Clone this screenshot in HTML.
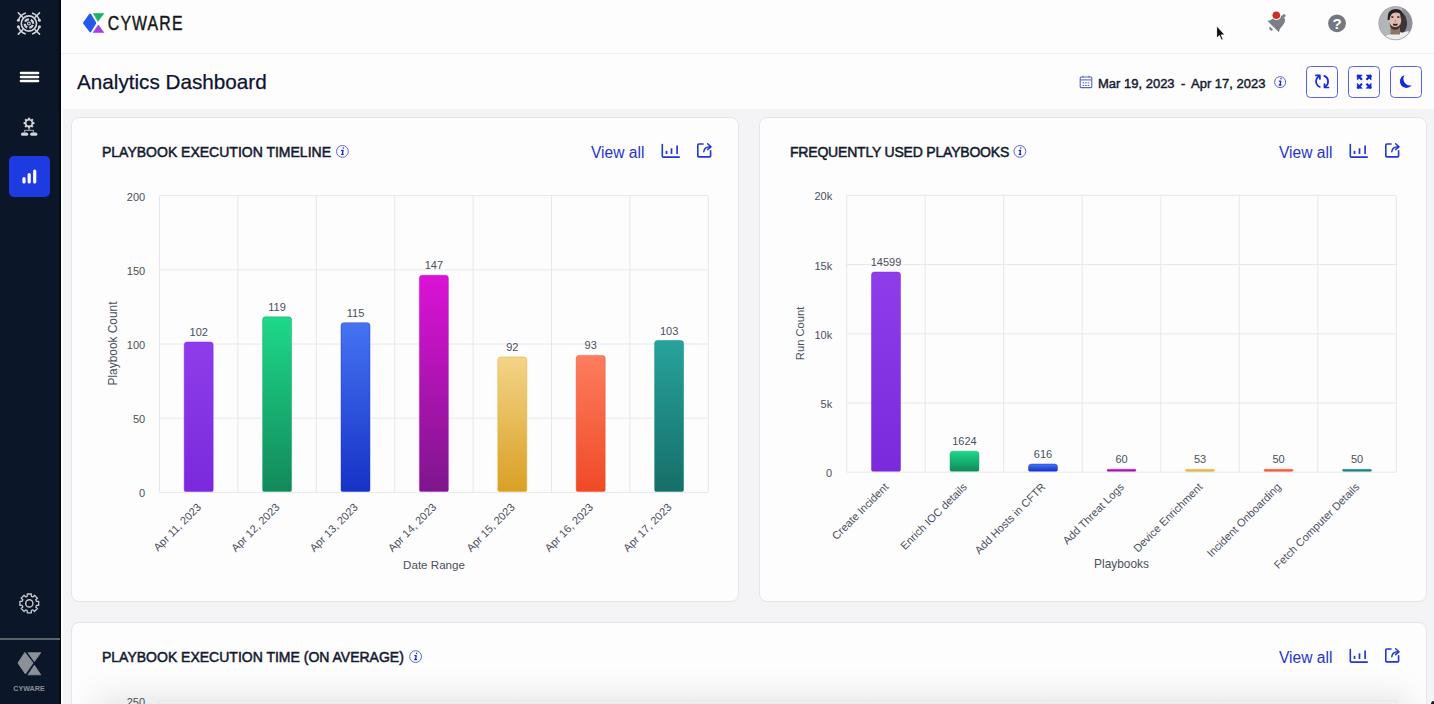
<!DOCTYPE html>
<html>
<head>
<meta charset="utf-8">
<style>
*{box-sizing:border-box;margin:0;padding:0}
html,body{width:1434px;height:704px;overflow:hidden;background:#f4f4f6;font-family:"Liberation Sans",Arial,sans-serif}
.abs{position:absolute}
#side{left:0;top:0;width:61px;height:704px;background:#0b1628;border-right:2px solid #040a14}
#strip{left:61px;top:0;width:2px;height:704px;background:#fbfcfe}
#hdr{left:61px;top:0;width:1373px;height:54px;background:#fdfdfd;border-bottom:1px solid #f0f0f3}
#tbar{left:61px;top:54px;width:1373px;height:55px;background:#fdfdfd}
.card{position:absolute;background:#fdfdfd;border:1px solid #e4e5e8;border-radius:8px}
.ttl{position:absolute;font-weight:400;font-size:14px;color:#141a2e;white-space:nowrap;letter-spacing:0;-webkit-text-stroke:0.5px #141a2e}
.va{position:absolute;font-size:15.6px;color:#2634cc;white-space:nowrap;margin-top:1.5px}
</style>
</head>
<body>
<div id="side" class="abs"></div>
<div id="strip" class="abs"></div>
<div id="hdr" class="abs"></div>
<div id="tbar" class="abs"></div>

<div class="card" style="left:71px;top:117px;width:668px;height:485px"></div>
<div class="card" style="left:759px;top:117px;width:668px;height:485px"></div>
<div class="card" style="left:71px;top:622px;width:1356px;height:120px;overflow:hidden">
  <div class="abs" style="left:36px;top:86px;width:1290px;height:60px;background:#e6e6e8;box-shadow:0 0 32px 12px rgba(0,0,0,0.1)"></div>
</div>

<!-- title -->
<div class="abs" style="left:77px;top:69.5px;font-size:20.7px;color:#0e1430;white-space:nowrap;-webkit-text-stroke:0.25px #0e1430">Analytics Dashboard</div>

<!-- date range -->
<div class="abs" style="left:1098px;top:76px;font-size:13px;font-weight:400;color:#161b30;white-space:nowrap;-webkit-text-stroke:0.45px #161b30">Mar 19, 2023</div>
<div class="abs" style="left:1181px;top:76px;font-size:13px;font-weight:400;color:#161b30;white-space:nowrap;-webkit-text-stroke:0.45px #161b30">-</div>
<div class="abs" style="left:1191px;top:76px;font-size:13px;font-weight:400;color:#161b30;white-space:nowrap;-webkit-text-stroke:0.45px #161b30">Apr 17, 2023</div>

<!-- card titles -->
<div class="ttl" style="left:102px;top:144px">PLAYBOOK EXECUTION TIMELINE</div>
<div class="ttl" style="left:790px;top:144px;letter-spacing:-0.2px">FREQUENTLY USED PLAYBOOKS</div>
<div class="ttl" style="left:102px;top:649px">PLAYBOOK EXECUTION TIME (ON AVERAGE)</div>

<div class="va" style="left:591px;top:142px">View all</div>
<div class="va" style="left:1279px;top:142px">View all</div>
<div class="va" style="left:1279px;top:647px">View all</div>

<div class="abs" style="left:1431px;top:701px;width:4px;height:4px;background:#151515;border-top-left-radius:3px"></div>
<svg class="abs" id="charts" style="left:0;top:0" width="1434" height="704"><defs><linearGradient id="gpur" x1="0" y1="0" x2="0" y2="1"><stop offset="0" stop-color="#8f3dea"/><stop offset="1" stop-color="#7a2adc"/></linearGradient><linearGradient id="ggrn" x1="0" y1="0" x2="0" y2="1"><stop offset="0" stop-color="#1dd98a"/><stop offset="1" stop-color="#12895a"/></linearGradient><linearGradient id="gblu" x1="0" y1="0" x2="0" y2="1"><stop offset="0" stop-color="#4474f2"/><stop offset="1" stop-color="#1632c6"/></linearGradient><linearGradient id="gmag" x1="0" y1="0" x2="0" y2="1"><stop offset="0" stop-color="#dc12d6"/><stop offset="1" stop-color="#7e168c"/></linearGradient><linearGradient id="gyel" x1="0" y1="0" x2="0" y2="1"><stop offset="0" stop-color="#f4d488"/><stop offset="1" stop-color="#d9a024"/></linearGradient><linearGradient id="gorg" x1="0" y1="0" x2="0" y2="1"><stop offset="0" stop-color="#fd7d5e"/><stop offset="1" stop-color="#ef4a26"/></linearGradient><linearGradient id="gtea" x1="0" y1="0" x2="0" y2="1"><stop offset="0" stop-color="#26a39c"/><stop offset="1" stop-color="#166e68"/></linearGradient></defs><line x1="159.5" y1="195.6" x2="708.3" y2="195.6" stroke="#e7e8ee" stroke-width="1"/><text x="145.2" y="200.6" text-anchor="end" font-size="11" fill="#4a4f5c" font-family="'Liberation Sans',Arial,sans-serif">200</text><line x1="159.5" y1="269.8" x2="708.3" y2="269.8" stroke="#e7e8ee" stroke-width="1"/><text x="145.2" y="274.8" text-anchor="end" font-size="11" fill="#4a4f5c" font-family="'Liberation Sans',Arial,sans-serif">150</text><line x1="159.5" y1="344" x2="708.3" y2="344" stroke="#e7e8ee" stroke-width="1"/><text x="145.2" y="349" text-anchor="end" font-size="11" fill="#4a4f5c" font-family="'Liberation Sans',Arial,sans-serif">100</text><line x1="159.5" y1="418.2" x2="708.3" y2="418.2" stroke="#e7e8ee" stroke-width="1"/><text x="145.2" y="423.2" text-anchor="end" font-size="11" fill="#4a4f5c" font-family="'Liberation Sans',Arial,sans-serif">50</text><line x1="159.5" y1="492.4" x2="708.3" y2="492.4" stroke="#e7e8ee" stroke-width="1"/><text x="145.2" y="497.4" text-anchor="end" font-size="11" fill="#4a4f5c" font-family="'Liberation Sans',Arial,sans-serif">0</text><line x1="159.5" y1="195.6" x2="159.5" y2="492.4" stroke="#e7e8ee" stroke-width="1"/><line x1="237.9" y1="195.6" x2="237.9" y2="492.4" stroke="#e7e8ee" stroke-width="1"/><line x1="316.3" y1="195.6" x2="316.3" y2="492.4" stroke="#e7e8ee" stroke-width="1"/><line x1="394.7" y1="195.6" x2="394.7" y2="492.4" stroke="#e7e8ee" stroke-width="1"/><line x1="473.1" y1="195.6" x2="473.1" y2="492.4" stroke="#e7e8ee" stroke-width="1"/><line x1="551.5" y1="195.6" x2="551.5" y2="492.4" stroke="#e7e8ee" stroke-width="1"/><line x1="629.9" y1="195.6" x2="629.9" y2="492.4" stroke="#e7e8ee" stroke-width="1"/><line x1="708.3" y1="195.6" x2="708.3" y2="492.4" stroke="#e7e8ee" stroke-width="1"/><path d="M184.2,490 L184.2,345 Q184.2,342 187.2,342 L210.2,342 Q213.2,342 213.2,345 L213.2,490 Q213.2,491.5 211.7,491.5 L185.7,491.5 Q184.2,491.5 184.2,490 Z" fill="url(#gpur)" stroke="#7a14e0" stroke-opacity="0.55" stroke-width="0.8"/><text x="198.7" y="336" text-anchor="middle" font-size="11" fill="#4a4f5c" font-family="'Liberation Sans',Arial,sans-serif">102</text><text x="201.9" y="507.9" text-anchor="end" font-size="11" fill="#4a4f5c" font-family="'Liberation Sans',Arial,sans-serif" transform="rotate(-45 201.9 507.9)">Apr 11, 2023</text><path d="M262.6,490 L262.6,319.8 Q262.6,316.8 265.6,316.8 L288.6,316.8 Q291.6,316.8 291.6,319.8 L291.6,490 Q291.6,491.5 290.1,491.5 L264.1,491.5 Q262.6,491.5 262.6,490 Z" fill="url(#ggrn)" stroke="#10a060" stroke-opacity="0.55" stroke-width="0.8"/><text x="277.1" y="310.8" text-anchor="middle" font-size="11" fill="#4a4f5c" font-family="'Liberation Sans',Arial,sans-serif">119</text><text x="280.3" y="507.9" text-anchor="end" font-size="11" fill="#4a4f5c" font-family="'Liberation Sans',Arial,sans-serif" transform="rotate(-45 280.3 507.9)">Apr 12, 2023</text><path d="M341,490 L341,325.7 Q341,322.7 344,322.7 L367,322.7 Q370,322.7 370,325.7 L370,490 Q370,491.5 368.5,491.5 L342.5,491.5 Q341,491.5 341,490 Z" fill="url(#gblu)" stroke="#1a2fd8" stroke-opacity="0.55" stroke-width="0.8"/><text x="355.5" y="316.7" text-anchor="middle" font-size="11" fill="#4a4f5c" font-family="'Liberation Sans',Arial,sans-serif">115</text><text x="358.7" y="507.9" text-anchor="end" font-size="11" fill="#4a4f5c" font-family="'Liberation Sans',Arial,sans-serif" transform="rotate(-45 358.7 507.9)">Apr 13, 2023</text><path d="M419.4,490 L419.4,278.3 Q419.4,275.3 422.4,275.3 L445.4,275.3 Q448.4,275.3 448.4,278.3 L448.4,490 Q448.4,491.5 446.9,491.5 L420.9,491.5 Q419.4,491.5 419.4,490 Z" fill="url(#gmag)" stroke="#b010c0" stroke-opacity="0.55" stroke-width="0.8"/><text x="433.9" y="269.3" text-anchor="middle" font-size="11" fill="#4a4f5c" font-family="'Liberation Sans',Arial,sans-serif">147</text><text x="437.1" y="507.9" text-anchor="end" font-size="11" fill="#4a4f5c" font-family="'Liberation Sans',Arial,sans-serif" transform="rotate(-45 437.1 507.9)">Apr 14, 2023</text><path d="M497.8,490 L497.8,359.9 Q497.8,356.9 500.8,356.9 L523.8,356.9 Q526.8,356.9 526.8,359.9 L526.8,490 Q526.8,491.5 525.3,491.5 L499.3,491.5 Q497.8,491.5 497.8,490 Z" fill="url(#gyel)" stroke="#e0a820" stroke-opacity="0.55" stroke-width="0.8"/><text x="512.3" y="350.9" text-anchor="middle" font-size="11" fill="#4a4f5c" font-family="'Liberation Sans',Arial,sans-serif">92</text><text x="515.5" y="507.9" text-anchor="end" font-size="11" fill="#4a4f5c" font-family="'Liberation Sans',Arial,sans-serif" transform="rotate(-45 515.5 507.9)">Apr 15, 2023</text><path d="M576.2,490 L576.2,358.4 Q576.2,355.4 579.2,355.4 L602.2,355.4 Q605.2,355.4 605.2,358.4 L605.2,490 Q605.2,491.5 603.7,491.5 L577.7,491.5 Q576.2,491.5 576.2,490 Z" fill="url(#gorg)" stroke="#f04020" stroke-opacity="0.55" stroke-width="0.8"/><text x="590.7" y="349.4" text-anchor="middle" font-size="11" fill="#4a4f5c" font-family="'Liberation Sans',Arial,sans-serif">93</text><text x="593.9" y="507.9" text-anchor="end" font-size="11" fill="#4a4f5c" font-family="'Liberation Sans',Arial,sans-serif" transform="rotate(-45 593.9 507.9)">Apr 16, 2023</text><path d="M654.6,490 L654.6,343.5 Q654.6,340.5 657.6,340.5 L680.6,340.5 Q683.6,340.5 683.6,343.5 L683.6,490 Q683.6,491.5 682.1,491.5 L656.1,491.5 Q654.6,491.5 654.6,490 Z" fill="url(#gtea)" stroke="#128078" stroke-opacity="0.55" stroke-width="0.8"/><text x="669.1" y="334.5" text-anchor="middle" font-size="11" fill="#4a4f5c" font-family="'Liberation Sans',Arial,sans-serif">103</text><text x="672.3" y="507.9" text-anchor="end" font-size="11" fill="#4a4f5c" font-family="'Liberation Sans',Arial,sans-serif" transform="rotate(-45 672.3 507.9)">Apr 17, 2023</text><text x="434" y="569" text-anchor="middle" font-size="11.6" fill="#4a4f5c" font-family="'Liberation Sans',Arial,sans-serif">Date Range</text><text x="0" y="0" text-anchor="middle" font-size="11.9" fill="#4a4f5c" font-family="'Liberation Sans',Arial,sans-serif" transform="translate(116.5 343.5) rotate(-90)">Playbook Count</text><line x1="846.7" y1="195.3" x2="1396.3" y2="195.3" stroke="#e7e8ee" stroke-width="1"/><text x="832.2" y="200.3" text-anchor="end" font-size="11" fill="#4a4f5c" font-family="'Liberation Sans',Arial,sans-serif">20k</text><line x1="846.7" y1="264.5" x2="1396.3" y2="264.5" stroke="#e7e8ee" stroke-width="1"/><text x="832.2" y="269.5" text-anchor="end" font-size="11" fill="#4a4f5c" font-family="'Liberation Sans',Arial,sans-serif">15k</text><line x1="846.7" y1="333.8" x2="1396.3" y2="333.8" stroke="#e7e8ee" stroke-width="1"/><text x="832.2" y="338.8" text-anchor="end" font-size="11" fill="#4a4f5c" font-family="'Liberation Sans',Arial,sans-serif">10k</text><line x1="846.7" y1="403" x2="1396.3" y2="403" stroke="#e7e8ee" stroke-width="1"/><text x="832.2" y="408" text-anchor="end" font-size="11" fill="#4a4f5c" font-family="'Liberation Sans',Arial,sans-serif">5k</text><line x1="846.7" y1="472.2" x2="1396.3" y2="472.2" stroke="#e7e8ee" stroke-width="1"/><text x="832.2" y="477.2" text-anchor="end" font-size="11" fill="#4a4f5c" font-family="'Liberation Sans',Arial,sans-serif">0</text><line x1="846.7" y1="195.3" x2="846.7" y2="472.2" stroke="#e7e8ee" stroke-width="1"/><line x1="925.2" y1="195.3" x2="925.2" y2="472.2" stroke="#e7e8ee" stroke-width="1"/><line x1="1003.7" y1="195.3" x2="1003.7" y2="472.2" stroke="#e7e8ee" stroke-width="1"/><line x1="1082.2" y1="195.3" x2="1082.2" y2="472.2" stroke="#e7e8ee" stroke-width="1"/><line x1="1160.8" y1="195.3" x2="1160.8" y2="472.2" stroke="#e7e8ee" stroke-width="1"/><line x1="1239.3" y1="195.3" x2="1239.3" y2="472.2" stroke="#e7e8ee" stroke-width="1"/><line x1="1317.8" y1="195.3" x2="1317.8" y2="472.2" stroke="#e7e8ee" stroke-width="1"/><line x1="1396.3" y1="195.3" x2="1396.3" y2="472.2" stroke="#e7e8ee" stroke-width="1"/><path d="M871.5,469.8 L871.5,275 Q871.5,272 874.5,272 L897.5,272 Q900.5,272 900.5,275 L900.5,469.8 Q900.5,471.3 899,471.3 L873,471.3 Q871.5,471.3 871.5,469.8 Z" fill="url(#gpur)" stroke="#7a14e0" stroke-opacity="0.55" stroke-width="0.8"/><text x="886" y="266" text-anchor="middle" font-size="11" fill="#4a4f5c" font-family="'Liberation Sans',Arial,sans-serif">14599</text><text x="889.2" y="487.7" text-anchor="end" font-size="11" fill="#4a4f5c" font-family="'Liberation Sans',Arial,sans-serif" transform="rotate(-45 889.2 487.7)">Create Incident</text><path d="M950,469.8 L950,454.2 Q950,451.2 953,451.2 L976,451.2 Q979,451.2 979,454.2 L979,469.8 Q979,471.3 977.5,471.3 L951.5,471.3 Q950,471.3 950,469.8 Z" fill="url(#ggrn)" stroke="#10a060" stroke-opacity="0.55" stroke-width="0.8"/><text x="964.5" y="445.2" text-anchor="middle" font-size="11" fill="#4a4f5c" font-family="'Liberation Sans',Arial,sans-serif">1624</text><text x="967.7" y="487.7" text-anchor="end" font-size="11" fill="#4a4f5c" font-family="'Liberation Sans',Arial,sans-serif" transform="rotate(-45 967.7 487.7)">Enrich IOC details</text><path d="M1028.5,469.8 L1028.5,467 Q1028.5,464 1031.5,464 L1054.5,464 Q1057.5,464 1057.5,467 L1057.5,469.8 Q1057.5,471.3 1056,471.3 L1030,471.3 Q1028.5,471.3 1028.5,469.8 Z" fill="url(#gblu)" stroke="#1a2fd8" stroke-opacity="0.55" stroke-width="0.8"/><text x="1043" y="458" text-anchor="middle" font-size="11" fill="#4a4f5c" font-family="'Liberation Sans',Arial,sans-serif">616</text><text x="1046.2" y="487.7" text-anchor="end" font-size="11" fill="#4a4f5c" font-family="'Liberation Sans',Arial,sans-serif" transform="rotate(-45 1046.2 487.7)">Add Hosts in CFTR</text><path d="M1107,470.3 L1107,470.3 Q1107,469.3 1108,469.3 L1135,469.3 Q1136,469.3 1136,470.3 L1136,470.3 Q1136,471.3 1135,471.3 L1108,471.3 Q1107,471.3 1107,470.3 Z" fill="url(#gmag)" stroke="#b010c0" stroke-opacity="0.55" stroke-width="0.8"/><text x="1121.5" y="463.3" text-anchor="middle" font-size="11" fill="#4a4f5c" font-family="'Liberation Sans',Arial,sans-serif">60</text><text x="1124.7" y="487.7" text-anchor="end" font-size="11" fill="#4a4f5c" font-family="'Liberation Sans',Arial,sans-serif" transform="rotate(-45 1124.7 487.7)">Add Threat Logs</text><path d="M1185.5,470.3 L1185.5,470.3 Q1185.5,469.3 1186.5,469.3 L1213.5,469.3 Q1214.5,469.3 1214.5,470.3 L1214.5,470.3 Q1214.5,471.3 1213.5,471.3 L1186.5,471.3 Q1185.5,471.3 1185.5,470.3 Z" fill="url(#gyel)" stroke="#e0a820" stroke-opacity="0.55" stroke-width="0.8"/><text x="1200" y="463.3" text-anchor="middle" font-size="11" fill="#4a4f5c" font-family="'Liberation Sans',Arial,sans-serif">53</text><text x="1203.2" y="487.7" text-anchor="end" font-size="11" fill="#4a4f5c" font-family="'Liberation Sans',Arial,sans-serif" transform="rotate(-45 1203.2 487.7)">Device Enrichment</text><path d="M1264,470.3 L1264,470.3 Q1264,469.3 1265,469.3 L1292,469.3 Q1293,469.3 1293,470.3 L1293,470.3 Q1293,471.3 1292,471.3 L1265,471.3 Q1264,471.3 1264,470.3 Z" fill="url(#gorg)" stroke="#f04020" stroke-opacity="0.55" stroke-width="0.8"/><text x="1278.5" y="463.3" text-anchor="middle" font-size="11" fill="#4a4f5c" font-family="'Liberation Sans',Arial,sans-serif">50</text><text x="1281.7" y="487.7" text-anchor="end" font-size="11" fill="#4a4f5c" font-family="'Liberation Sans',Arial,sans-serif" transform="rotate(-45 1281.7 487.7)">Incident Onboarding</text><path d="M1342.5,470.3 L1342.5,470.3 Q1342.5,469.3 1343.5,469.3 L1370.5,469.3 Q1371.5,469.3 1371.5,470.3 L1371.5,470.3 Q1371.5,471.3 1370.5,471.3 L1343.5,471.3 Q1342.5,471.3 1342.5,470.3 Z" fill="url(#gtea)" stroke="#128078" stroke-opacity="0.55" stroke-width="0.8"/><text x="1357" y="463.3" text-anchor="middle" font-size="11" fill="#4a4f5c" font-family="'Liberation Sans',Arial,sans-serif">50</text><text x="1360.2" y="487.7" text-anchor="end" font-size="11" fill="#4a4f5c" font-family="'Liberation Sans',Arial,sans-serif" transform="rotate(-45 1360.2 487.7)">Fetch Computer Details</text><text x="1121.5" y="568.3" text-anchor="middle" font-size="11.9" fill="#4a4f5c" font-family="'Liberation Sans',Arial,sans-serif">Playbooks</text><text x="0" y="0" text-anchor="middle" font-size="11.2" fill="#4a4f5c" font-family="'Liberation Sans',Arial,sans-serif" transform="translate(804.3 333.4) rotate(-90)">Run Count</text><line x1="159.3" y1="700.5" x2="1396" y2="700.5" stroke="#e7e8ee" stroke-width="1"/><line x1="159.3" y1="700.5" x2="159.3" y2="710" stroke="#e7e8ee" stroke-width="1"/><line x1="336" y1="700.5" x2="336" y2="710" stroke="#e7e8ee" stroke-width="1"/><line x1="512.6" y1="700.5" x2="512.6" y2="710" stroke="#e7e8ee" stroke-width="1"/><line x1="689.3" y1="700.5" x2="689.3" y2="710" stroke="#e7e8ee" stroke-width="1"/><line x1="866" y1="700.5" x2="866" y2="710" stroke="#e7e8ee" stroke-width="1"/><line x1="1042.7" y1="700.5" x2="1042.7" y2="710" stroke="#e7e8ee" stroke-width="1"/><line x1="1219.3" y1="700.5" x2="1219.3" y2="710" stroke="#e7e8ee" stroke-width="1"/><line x1="1396" y1="700.5" x2="1396" y2="710" stroke="#e7e8ee" stroke-width="1"/><text x="145" y="705.5" text-anchor="end" font-size="11" fill="#4a4f5c" font-family="'Liberation Sans',Arial,sans-serif">250</text><circle cx="28.9" cy="23.5" r="7.6" fill="none" stroke="#d2d4d8" stroke-width="1.7"/><circle cx="28.9" cy="23.5" r="4.2" fill="none" stroke="#d2d4d8" stroke-width="2.2" stroke-dasharray="4.6 2" transform="rotate(20 28.9 23.5)"/><circle cx="28.9" cy="23.5" r="1.4" fill="none" stroke="#d2d4d8" stroke-width="1.1"/><path d="M18.56,19.74 A11,11 0 0 1 25.14,13.16" fill="none" stroke="#d2d4d8" stroke-width="1.6" stroke-linecap="round"/><path d="M32.66,13.16 A11,11 0 0 1 39.24,19.74" fill="none" stroke="#d2d4d8" stroke-width="1.6" stroke-linecap="round"/><path d="M39.24,27.26 A11,11 0 0 1 32.66,33.84" fill="none" stroke="#d2d4d8" stroke-width="1.6" stroke-linecap="round"/><path d="M25.14,33.84 A11,11 0 0 1 18.56,27.26" fill="none" stroke="#d2d4d8" stroke-width="1.6" stroke-linecap="round"/><line x1="22.68" y1="17.28" x2="18.29" y2="12.89" stroke="#d2d4d8" stroke-width="1.5" stroke-linecap="round"/><line x1="35.12" y1="17.28" x2="39.51" y2="12.89" stroke="#d2d4d8" stroke-width="1.5" stroke-linecap="round"/><line x1="35.12" y1="29.72" x2="39.51" y2="34.11" stroke="#d2d4d8" stroke-width="1.5" stroke-linecap="round"/><line x1="22.68" y1="29.72" x2="18.29" y2="34.11" stroke="#d2d4d8" stroke-width="1.5" stroke-linecap="round"/><circle cx="18.38" cy="20.28" r="1.5" fill="#d2d4d8"/><circle cx="39.42" cy="20.28" r="1.5" fill="#d2d4d8"/><circle cx="39.42" cy="26.72" r="1.5" fill="#d2d4d8"/><circle cx="18.38" cy="26.72" r="1.5" fill="#d2d4d8"/><line x1="21" y1="73" x2="38" y2="73" stroke="#ffffff" stroke-width="2.6" stroke-linecap="round"/><line x1="21" y1="77" x2="38" y2="77" stroke="#ffffff" stroke-width="2.6" stroke-linecap="round"/><line x1="21" y1="81" x2="38" y2="81" stroke="#ffffff" stroke-width="2.6" stroke-linecap="round"/><path d="M33.06,122.04 L34.39,122.03 L34.39,124.17 L33.06,124.16 L32.62,125.22 L33.57,126.16 L32.06,127.67 L31.12,126.72 L30.06,127.16 L30.07,128.49 L27.93,128.49 L27.94,127.16 L26.88,126.72 L25.94,127.67 L24.43,126.16 L25.38,125.22 L24.94,124.16 L23.61,124.17 L23.61,122.03 L24.94,122.04 L25.38,120.98 L24.43,120.04 L25.94,118.53 L26.88,119.48 L27.94,119.04 L27.93,117.71 L30.07,117.71 L30.06,119.04 L31.12,119.48 L32.06,118.53 L33.57,120.04 L32.62,120.98 Z" fill="#d2d4d8"/><circle cx="29" cy="123.1" r="2.5" fill="#0b1628"/><path d="M29,128.5 L29,130.3 M24.6,130.3 L33.4,130.3 M24.6,130.3 L24.6,132.5 M33.4,130.3 L33.4,132.5" stroke="#d2d4d8" stroke-width="0.8" fill="none"/><rect x="21" y="132.6" width="7.2" height="3.2" rx="1.6" fill="#d2d4d8"/><rect x="30.2" y="132.6" width="7.2" height="3.2" rx="1.6" fill="#d2d4d8"/><rect x="9" y="156" width="41" height="41" rx="5" fill="#1e3be2"/><line x1="24" y1="178.70000000000002" x2="24" y2="182" stroke="#fff" stroke-width="3.2" stroke-linecap="round"/><line x1="29.2" y1="174.5" x2="29.2" y2="182" stroke="#fff" stroke-width="3.2" stroke-linecap="round"/><line x1="34.7" y1="171.1" x2="34.7" y2="182" stroke="#fff" stroke-width="3.2" stroke-linecap="round"/><path d="M36.41,601.35 L38.68,601.34 L38.68,605.46 L36.41,605.45 L35.78,606.98 L37.39,608.58 L34.48,611.49 L32.88,609.88 L31.35,610.51 L31.36,612.78 L27.24,612.78 L27.25,610.51 L25.72,609.88 L24.12,611.49 L21.21,608.58 L22.82,606.98 L22.19,605.45 L19.92,605.46 L19.92,601.34 L22.19,601.35 L22.82,599.82 L21.21,598.22 L24.12,595.31 L25.72,596.92 L27.25,596.29 L27.24,594.02 L31.36,594.02 L31.35,596.29 L32.88,596.92 L34.48,595.31 L37.39,598.22 L35.78,599.82 Z" fill="none" stroke="#c6c9ce" stroke-width="1.3" stroke-linejoin="round"/><circle cx="29.3" cy="603.4" r="3.6" fill="none" stroke="#c6c9ce" stroke-width="1.4"/><rect x="0" y="638" width="60" height="2" fill="#5d636d"/><path d="M24.9,652.5 L33,663 L25.4,673.8 L18,663 Z" fill="#8b9099" stroke="#8b9099" stroke-width="1" stroke-linejoin="round"/><path d="M28,652.7 L40.8,652.7 L34.4,661.6 Z" fill="#8b9099" stroke="#8b9099" stroke-width="0.8" stroke-linejoin="round"/><path d="M28,674.8 L40.8,674.8 L34.4,665.2 Z" fill="#8b9099" stroke="#8b9099" stroke-width="0.8" stroke-linejoin="round"/><text x="29" y="690.8" text-anchor="middle" font-size="8" font-weight="700" fill="#8b9099" font-family="'Liberation Sans',Arial,sans-serif" textLength="31.5" lengthAdjust="spacingAndGlyphs">CYWARE</text><path d="M89.6,13.6 Q90.3,13.2 91,14 L96,22.3 Q96.4,23 96,23.7 L91,31.9 Q90.3,32.8 89.6,32 L83.3,23.8 Q82.8,23 83.3,22.2 Z" fill="#2659ea"/><path d="M93.4,13.5 L103.9,13.5 L97.9,21.3 Z" fill="#17b26c" stroke="#17b26c" stroke-width="0.6" stroke-linejoin="round"/><path d="M93,32.6 L103.9,32.6 L98.3,25 Z" fill="#a43fe6" stroke="#a43fe6" stroke-width="0.6" stroke-linejoin="round"/><text transform="translate(107.8 30.2) scale(0.8 1)" font-size="19.8" letter-spacing="1.45" fill="#161616" stroke="#161616" stroke-width="0.45" font-family="'Liberation Sans',Arial,sans-serif">CYWARE</text><path d="M1216.6,25.8 L1216.6,38.2 L1219.4,35.6 L1221.4,40.2 L1223.2,39.4 L1221.3,34.9 L1225,34.9 Z" fill="#111" stroke="#fff" stroke-width="0.9" stroke-linejoin="round"/><g transform="translate(1273.2 26.6) rotate(45) scale(1.1)"><path d="M-7.4,0 Q-5.4,-1.6 -5.4,-6.2 Q-5.4,-12.6 0,-13 Q5.4,-12.6 5.4,-6.2 Q5.4,-1.6 7.4,0 Z" fill="#7a7e87"/><rect x="-1.3" y="-15.2" width="2.6" height="2.6" rx="0.6" fill="#7a7e87"/><path d="M-2,2.2 A2,2 0 0 0 2,2.2 Z" fill="#7a7e87"/></g><circle cx="1276.3" cy="15.2" r="4.9" fill="#fdfdfd"/><circle cx="1276.3" cy="15.2" r="3.8" fill="#c8321e"/><circle cx="1337" cy="23.3" r="8.9" fill="#747981"/><text x="1337" y="28.9" text-anchor="middle" font-size="15" font-weight="700" fill="#fff" font-family="'Liberation Sans',Arial,sans-serif">?</text><defs><clipPath id="avc"><circle cx="1395.5" cy="23.2" r="16.7"/></clipPath></defs><g clip-path="url(#avc)"><rect x="1378" y="6" width="35" height="35" fill="#b3b5b9"/><path d="M1402,6 L1413,6 L1413,41 L1404,41 Z" fill="#8c8f95"/><path d="M1400.5,12 Q1406,14 1407,22 Q1407.5,29 1403,33 L1399,31 Z" fill="#3a3436"/><path d="M1386,41 L1386,35.5 Q1392,33.5 1396,33.6 Q1402,33 1408.5,31 L1410,41 Z" fill="#eeeeee"/><rect x="1390.5" y="27" width="9.5" height="7.5" fill="#8f7468"/><ellipse cx="1395.2" cy="20.6" rx="6" ry="8.3" fill="#e2bcae"/><path d="M1387.6,20 Q1387,8.8 1395.6,8.9 Q1403.6,9 1403,17 Q1401,12.2 1395.6,12.4 Q1390.2,12.4 1389.6,20 Z" fill="#262022"/><path d="M1389.5,22.5 Q1390,30 1395.2,29.8 Q1400.4,29.8 1401,22.5 Q1399.5,27 1395.2,27.2 Q1391,27 1389.5,22.5 Z" fill="#3c302c"/><ellipse cx="1392.3" cy="17.1" rx="1.4" ry="0.8" fill="#2a2222"/><ellipse cx="1398.3" cy="17.1" rx="1.4" ry="0.8" fill="#2a2222"/><ellipse cx="1395.3" cy="24.2" rx="2.4" ry="1.5" fill="#2c1a1c"/><path d="M1393.3,23.5 Q1395.3,22.6 1397.3,23.5 L1397,24.1 Q1395.3,23.6 1393.6,24.1 Z" fill="#f0e6e6"/><ellipse cx="1395.3" cy="20.6" rx="0.9" ry="1.2" fill="#c29a8c"/></g><circle cx="1395.5" cy="23.2" r="16.6" fill="none" stroke="#9a9ca1" stroke-width="0.8"/><rect x="1080.2" y="77" width="11.6" height="10.6" rx="1" fill="none" stroke="#5a63c9" stroke-width="1.1"/><line x1="1080.2" y1="79.9" x2="1091.8" y2="79.9" stroke="#5a63c9" stroke-width="1.1"/><line x1="1083" y1="75.8" x2="1083" y2="77.6" stroke="#5a63c9" stroke-width="1.1"/><line x1="1089" y1="75.8" x2="1089" y2="77.6" stroke="#5a63c9" stroke-width="1.1"/><rect x="1082.6" y="82.4" width="1.6" height="1" fill="#5a63c9"/><rect x="1085.1" y="82.4" width="1.6" height="1" fill="#5a63c9"/><rect x="1087.6" y="82.4" width="1.6" height="1" fill="#5a63c9"/><rect x="1082.6" y="85" width="1.6" height="1" fill="#5a63c9"/><rect x="1085.1" y="85" width="1.6" height="1" fill="#5a63c9"/><rect x="1087.6" y="85" width="1.6" height="1" fill="#5a63c9"/><circle cx="1280.1" cy="82.1" r="5.5" fill="none" stroke="#5b67d6" stroke-width="1"/><circle cx="1281" cy="78.8" r="0.75" fill="#1a22d4"/><path d="M1279.4,81.2 L1280.7,81.2 L1280.1,85 M1279.3,85 L1281,85" fill="none" stroke="#1a22d4" stroke-width="1.3" stroke-linecap="round" stroke-linejoin="round"/><rect x="1306.5" y="66.5" width="31" height="31" rx="4" fill="#fdfdfd" stroke="#5663ee" stroke-width="1"/><rect x="1348.5" y="66.5" width="31" height="31" rx="4" fill="#fdfdfd" stroke="#5663ee" stroke-width="1"/><rect x="1390.5" y="66.5" width="31" height="31" rx="4" fill="#fdfdfd" stroke="#5663ee" stroke-width="1"/><path d="M1319.85,86.96 A6,6 0 0 1 1319.1,76.2" fill="none" stroke="#1428dc" stroke-width="1.7" stroke-linecap="round"/><path d="M1324.35,75.84 A6,6 0 0 1 1325.28,86.49" fill="none" stroke="#1428dc" stroke-width="1.7" stroke-linecap="round"/><path d="M1315.9,75.4 L1319.9,75.4 L1319.9,79" fill="none" stroke="#1428dc" stroke-width="1.7" stroke-linecap="round" stroke-linejoin="round"/><path d="M1324.5,84 L1324.5,87.5 L1328.5,87.5" fill="none" stroke="#1428dc" stroke-width="1.7" stroke-linecap="round" stroke-linejoin="round"/><path d="M1357.3,75.1 L1362.3,75.1 L1357.3,80.1 Z" fill="#1428dc" stroke="#1428dc" stroke-width="0.6" stroke-linejoin="round"/><line x1="1357.3" y1="75.1" x2="1362" y2="79.7" stroke="#1428dc" stroke-width="2.2"/><path d="M1371.1,75.1 L1366.1,75.1 L1371.1,80.1 Z" fill="#1428dc" stroke="#1428dc" stroke-width="0.6" stroke-linejoin="round"/><line x1="1371.1" y1="75.1" x2="1366.4" y2="79.7" stroke="#1428dc" stroke-width="2.2"/><path d="M1357.3,88.3 L1362.3,88.3 L1357.3,83.3 Z" fill="#1428dc" stroke="#1428dc" stroke-width="0.6" stroke-linejoin="round"/><line x1="1357.3" y1="88.3" x2="1362" y2="83.7" stroke="#1428dc" stroke-width="2.2"/><path d="M1371.1,88.3 L1366.1,88.3 L1371.1,83.3 Z" fill="#1428dc" stroke="#1428dc" stroke-width="0.6" stroke-linejoin="round"/><line x1="1371.1" y1="88.3" x2="1366.4" y2="83.7" stroke="#1428dc" stroke-width="2.2"/><path d="M1404.6,75.1 A6.6,6.6 0 1 0 1411.8,85.3 A6.7,6.7 0 0 1 1404.6,75.1 Z" fill="#1428dc"/><circle cx="342.4" cy="151.4" r="5.9" fill="none" stroke="#5b67d6" stroke-width="1"/><circle cx="343.3" cy="148.1" r="0.75" fill="#1a22d4"/><path d="M341.7,150.5 L343,150.5 L342.4,154.3 M341.6,154.3 L343.3,154.3" fill="none" stroke="#1a22d4" stroke-width="1.3" stroke-linecap="round" stroke-linejoin="round"/><circle cx="1019.9" cy="151.4" r="5.9" fill="none" stroke="#5b67d6" stroke-width="1"/><circle cx="1020.8" cy="148.1" r="0.75" fill="#1a22d4"/><path d="M1019.2,150.5 L1020.5,150.5 L1019.9,154.3 M1019.1,154.3 L1020.8,154.3" fill="none" stroke="#1a22d4" stroke-width="1.3" stroke-linecap="round" stroke-linejoin="round"/><circle cx="415.6" cy="656.6" r="5.9" fill="none" stroke="#5b67d6" stroke-width="1"/><circle cx="416.5" cy="653.3" r="0.75" fill="#1a22d4"/><path d="M414.9,655.7 L416.2,655.7 L415.6,659.5 M414.8,659.5 L416.5,659.5" fill="none" stroke="#1a22d4" stroke-width="1.3" stroke-linecap="round" stroke-linejoin="round"/><path d="M662.3,144.6 L662.3,156 Q662.3,157.1 663.4,157.1 L679.3,157.1" fill="none" stroke="#2336d2" stroke-width="1.6" stroke-linecap="round"/><line x1="666.5" y1="150.8" x2="666.5" y2="154" stroke="#2336d2" stroke-width="1.7"/><line x1="671.5" y1="148.3" x2="671.5" y2="154" stroke="#2336d2" stroke-width="1.7"/><line x1="677.1" y1="145.6" x2="677.1" y2="154" stroke="#2336d2" stroke-width="1.7"/><path d="M703,144 L698.8,144 Q697.8,144 697.8,145 L697.8,155.9 Q697.8,156.9 698.8,156.9 L709.6,156.9 Q710.6,156.9 710.6,155.9 L710.6,150.7" fill="none" stroke="#2336d2" stroke-width="1.6" stroke-linecap="round"/><path d="M703.8,151.8 Q704.2,147 710,146.8" fill="none" stroke="#2336d2" stroke-width="1.5" stroke-linecap="round"/><path d="M707.6,143.8 L711,146.8 L707.6,149.6" fill="none" stroke="#2336d2" stroke-width="1.5" stroke-linecap="round" stroke-linejoin="round"/><path d="M1350.3,144.6 L1350.3,156 Q1350.3,157.1 1351.4,157.1 L1367.3,157.1" fill="none" stroke="#2336d2" stroke-width="1.6" stroke-linecap="round"/><line x1="1354.5" y1="150.8" x2="1354.5" y2="154" stroke="#2336d2" stroke-width="1.7"/><line x1="1359.5" y1="148.3" x2="1359.5" y2="154" stroke="#2336d2" stroke-width="1.7"/><line x1="1365.1" y1="145.6" x2="1365.1" y2="154" stroke="#2336d2" stroke-width="1.7"/><path d="M1391,144 L1386.8,144 Q1385.8,144 1385.8,145 L1385.8,155.9 Q1385.8,156.9 1386.8,156.9 L1397.6,156.9 Q1398.6,156.9 1398.6,155.9 L1398.6,150.7" fill="none" stroke="#2336d2" stroke-width="1.6" stroke-linecap="round"/><path d="M1391.8,151.8 Q1392.2,147 1398,146.8" fill="none" stroke="#2336d2" stroke-width="1.5" stroke-linecap="round"/><path d="M1395.6,143.8 L1399,146.8 L1395.6,149.6" fill="none" stroke="#2336d2" stroke-width="1.5" stroke-linecap="round" stroke-linejoin="round"/><path d="M1350.3,649.6 L1350.3,661 Q1350.3,662.1 1351.4,662.1 L1367.3,662.1" fill="none" stroke="#2336d2" stroke-width="1.6" stroke-linecap="round"/><line x1="1354.5" y1="655.8" x2="1354.5" y2="659" stroke="#2336d2" stroke-width="1.7"/><line x1="1359.5" y1="653.3" x2="1359.5" y2="659" stroke="#2336d2" stroke-width="1.7"/><line x1="1365.1" y1="650.6" x2="1365.1" y2="659" stroke="#2336d2" stroke-width="1.7"/><path d="M1391,649 L1386.8,649 Q1385.8,649 1385.8,650 L1385.8,660.9 Q1385.8,661.9 1386.8,661.9 L1397.6,661.9 Q1398.6,661.9 1398.6,660.9 L1398.6,655.7" fill="none" stroke="#2336d2" stroke-width="1.6" stroke-linecap="round"/><path d="M1391.8,656.8 Q1392.2,652 1398,651.8" fill="none" stroke="#2336d2" stroke-width="1.5" stroke-linecap="round"/><path d="M1395.6,648.8 L1399,651.8 L1395.6,654.6" fill="none" stroke="#2336d2" stroke-width="1.5" stroke-linecap="round" stroke-linejoin="round"/></svg>
</body>
</html>
